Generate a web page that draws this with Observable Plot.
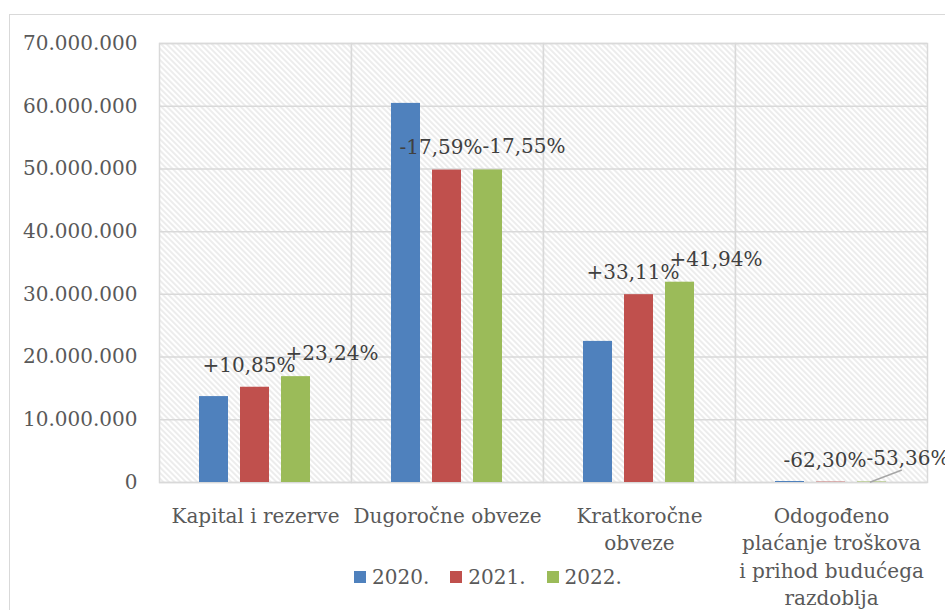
<!DOCTYPE html>
<html>
<head>
<meta charset="utf-8">
<script src="https://cdn.jsdelivr.net/npm/d3@7"></script>
<script src="https://cdn.jsdelivr.net/npm/@observablehq/plot@0.6"></script>
<style>
  body { margin: 0; background: #fff; }
  #wrap { position: relative; width: 945px; height: 610px; overflow: hidden; background: #fff; }
  #border { position: absolute; left: 9px; top: 14px; width: 1100px; height: 800px; border: 1.5px solid #d9d9d9; box-sizing: border-box; }
  #chart { position: absolute; left: 0; top: 0; }
  #legend { position: absolute; left: 354px; top: 565px; display: flex; align-items: center;
            font-family: "DejaVu Serif", serif; font-size: 20px; color: #595959; }
  #legend .item { display: flex; align-items: center; margin-right: 21px; }
  #legend .sw { width: 12px; height: 12px; margin-right: 6px; }
</style>
</head>
<body>
<div id="wrap">
  <div id="border"></div>
  <div id="chart"></div>
  <div id="legend"></div>
</div>
<script>
// ---- data ----
const categories = [
  "Kapital i rezerve",
  "Dugoročne obveze",
  "Kratkoročne obveze",
  "Odogođeno plaćanje troškova i prihod budućega razdoblja"
];
const categoryTickLabels = [
  "Kapital i rezerve",
  "Dugoročne obveze",
  "Kratkoročne\nobveze",
  "Odogođeno\nplaćanje troškova\ni prihod budućega\nrazdoblja"
];
const years = ["2020.", "2021.", "2022."];
const values2020 = [13700000, 60450000, 22500000, 160000];
const values2021 = [15190000, 49820000, 29950000, 60300];
const values2022 = [16880000, 49840000, 31940000, 74600];
const change2021 = ["+10,85%", "-17,59%", "+33,11%", "-62,30%"];
const change2022 = ["+23,24%", "-17,55%", "+41,94%", "-53,36%"];
const yTicks = [0, 10000000, 20000000, 30000000, 40000000, 50000000, 60000000, 70000000];
const colors = ["#4F81BD", "#C0504D", "#9BBB59"];

// ---- build table ----
const seriesValues = [values2020, values2021, values2022];
const seriesLabels = [null, change2021, change2022];
const rows = [];
categories.forEach((c, i) => {
  years.forEach((y, j) => {
    rows.push({category: c, year: y, value: seriesValues[j][i], label: seriesLabels[j] ? seriesLabels[j][i] : null});
  });
});
const fmt = d => d === 0 ? "0" : d3.format(",")(d).replace(/,/g, ".");
const tickLabelOf = d => categoryTickLabels[categories.indexOf(d)];

const leaderShape = {
  draw(context, l) { context.moveTo(0, 0); context.lineTo(0, -l); }
};

const plot = Plot.plot({
  width: 945,
  height: 610,
  marginLeft: 158,
  marginRight: 18,
  marginTop: 43,
  marginBottom: 128,
  style: {fontFamily: "DejaVu Serif, serif", fontSize: "20px", color: "#595959", background: "transparent", overflow: "visible"},
  fx: {domain: categories, padding: 0, label: null, axis: null},
  x: {domain: years, paddingInner: 0.2857, paddingOuter: 0.932, axis: null},
  y: {domain: [0, 70000000], label: null, axis: null},
  color: {domain: years, range: colors},
  marks: [
    Plot.frame({fill: "url(#hatch)", stroke: "#d9d9d9", strokeWidth: 1.5}),
    Plot.gridY(yTicks, {stroke: "#d9d9d9", strokeOpacity: 1, strokeWidth: 1.5}),
    Plot.barY(rows, {fx: "category", x: "year", y: "value", fill: "year"}),
    Plot.vector(rows.filter(d => d.category === categories[3] && d.year === years[2]), {
      fx: "category", x: "year", y: "value", length: 33, rotate: 69, anchor: "start",
      shape: leaderShape, stroke: "#a6a6a6", strokeWidth: 1.5, dx: -1.5
    }),
    Plot.text(rows.filter(d => d.year === years[1]), {
      fx: "category", x: "year", y: "value", text: "label", dy: -22, dx: -6,
      fill: "#404040", fontSize: 20
    }),
    Plot.text(rows.filter(d => d.year === years[2]), {
      fx: "category", x: "year", y: "value", text: "label", dy: -23, dx: 36,
      fill: "#404040", fontSize: 20
    }),
    Plot.axisY(yTicks, {anchor: "left", tickSize: 0, tickPadding: 22, tickFormat: fmt, fontSize: 20, fill: "#595959", label: null}),
    Plot.axisFx({anchor: "bottom", tickSize: 0, tickPadding: 21, tickFormat: tickLabelOf,
      fontSize: 20, lineHeight: 1.37, fill: "#595959", label: null})
  ]
});

const defs = '<defs><pattern id="hatch" patternUnits="userSpaceOnUse" width="4" height="4" patternTransform="rotate(-45)">' +
  '<rect width="4" height="4" fill="#ffffff"/>' +
  '<line x1="2" y1="0" x2="2" y2="4" stroke="#dedede" stroke-width="1.1"/></pattern></defs>';
plot.insertAdjacentHTML("afterbegin", defs);
document.getElementById("chart").appendChild(plot);

// ---- legend ----
const legend = document.getElementById("legend");
years.forEach((y, j) => {
  const item = document.createElement("div");
  item.className = "item";
  const sw = document.createElement("div");
  sw.className = "sw";
  sw.style.background = colors[j];
  const t = document.createElement("span");
  t.textContent = y;
  item.appendChild(sw);
  item.appendChild(t);
  legend.appendChild(item);
});
</script>
</body>
</html>
